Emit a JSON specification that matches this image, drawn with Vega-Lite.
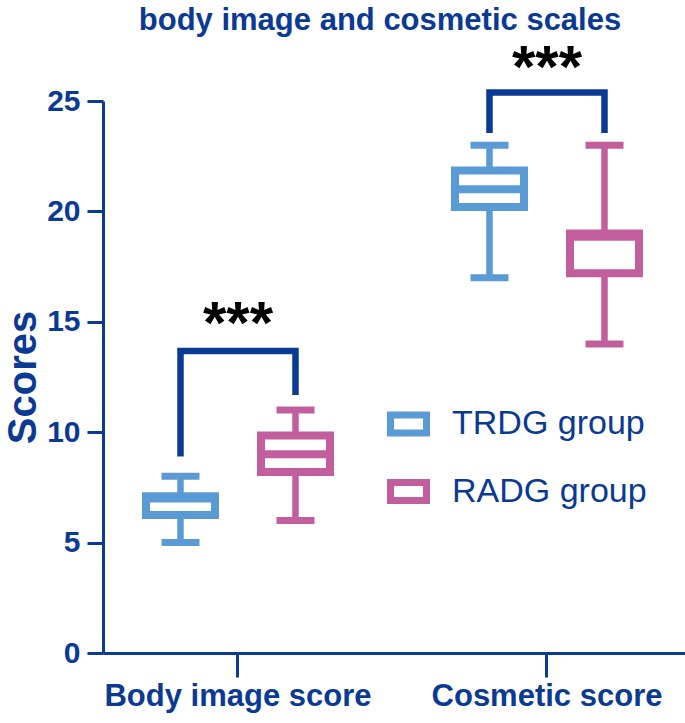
{
  "$schema": "https://vega.github.io/schema/vega-lite/v6.json",
  "width": 582,
  "height": 552,
  "autosize": {"type": "none"},
  "padding": {"left": 103, "top": 101, "right": 0, "bottom": 70},
  "background": "white",
  "title": {
    "text": "body image and cosmetic scales",
    "font": "Liberation Sans",
    "fontSize": 31,
    "fontWeight": "bold",
    "color": "#0a3a94",
    "anchor": "middle",
    "frame": "group",
    "dx": -14,
    "offset": 2
  },
  "config": {
    "view": {"stroke": null},
    "font": "Liberation Sans"
  },
  "datasets": {
    "boxes": [
      {"cat": "Body image score", "grp": "TRDG group", "min": 5, "q1": 6.25, "median": 7.0, "q3": 7.1, "max": 8},
      {"cat": "Body image score", "grp": "RADG group", "min": 6, "q1": 8.2, "median": 9.0, "q3": 9.85, "max": 11},
      {"cat": "Cosmetic score", "grp": "TRDG group", "min": 17, "q1": 20.2, "median": 21.0, "q3": 21.85, "max": 23},
      {"cat": "Cosmetic score", "grp": "RADG group", "min": 14, "q1": 17.2, "median": 18.85, "q3": 19.0, "max": 23}
    ],
    "brackets": [
      {"cat": "Body image score", "grp": "TRDG group", "v": 8.9, "b": "body", "o": 1},
      {"cat": "Body image score", "grp": "TRDG group", "v": 13.68, "b": "body", "o": 2},
      {"cat": "Body image score", "grp": "RADG group", "v": 13.68, "b": "body", "o": 3},
      {"cat": "Body image score", "grp": "RADG group", "v": 11.68, "b": "body", "o": 4},
      {"cat": "Cosmetic score", "grp": "TRDG group", "v": 23.55, "b": "cos", "o": 1},
      {"cat": "Cosmetic score", "grp": "TRDG group", "v": 25.38, "b": "cos", "o": 2},
      {"cat": "Cosmetic score", "grp": "RADG group", "v": 25.38, "b": "cos", "o": 3},
      {"cat": "Cosmetic score", "grp": "RADG group", "v": 23.55, "b": "cos", "o": 4}
    ],
    "stars": [
      {"cat": "Body image score", "v": 14.05, "label": "***"},
      {"cat": "Cosmetic score", "v": 25.65, "label": "***"}
    ]
  },
  "encoding": {
    "x": {
      "field": "cat",
      "type": "nominal",
      "sort": ["Body image score", "Cosmetic score"],
      "scale": {"domain": ["Body image score", "Cosmetic score"], "paddingInner": 0.2557, "paddingOuter": 0.0696, "align": 0.465},
      "axis": {
        "title": null,
        "labelAngle": 0,
        "labelLimit": 500,
        "domainColor": "#0a3a94",
        "domainWidth": 3,
        "tickColor": "#0a3a94",
        "tickWidth": 3,
        "tickSize": 24,
        "labelFont": "Liberation Sans",
        "labelFontSize": 31,
        "labelFontWeight": "bold",
        "labelColor": "#0a3a94",
        "labelPadding": 4
      }
    }
  },
  "layer": [
    {
      "data": {"name": "boxes"},
      "mark": {"type": "rule", "strokeWidth": 6.5},
      "encoding": {
        "xOffset": {"field": "grp", "type": "nominal", "scale": {"domain": ["TRDG group", "RADG group"], "paddingInner": 0, "paddingOuter": 0}},
        "y": {
          "field": "min",
          "type": "quantitative",
          "scale": {"domain": [0, 25], "nice": false},
          "axis": {
            "values": [0, 5, 10, 15, 20, 25],
            "grid": false,
            "title": "Scores",
            "titleFont": "Liberation Sans",
            "titleFontSize": 40,
            "titleFontWeight": "bold",
            "titleColor": "#0a3a94",
            "titlePadding": 3,
            "domainColor": "#0a3a94",
            "domainWidth": 3,
            "tickColor": "#0a3a94",
            "tickWidth": 3,
            "tickSize": 16,
            "labelFont": "Liberation Sans",
            "labelFontSize": 30,
            "labelFontWeight": "bold",
            "labelColor": "#0a3a94",
            "labelPadding": 7
          }
        },
        "y2": {"field": "max"},
        "stroke": {
          "field": "grp",
          "type": "nominal",
          "scale": {"domain": ["TRDG group", "RADG group"], "range": ["#5b9bd5", "#c25e9e"]},
          "legend": {
            "title": null,
            "orient": "none",
            "legendX": 284,
            "legendY": 301.5,
            "padding": 0,
            "symbolType": "M-1,-0.5H1V0.5H-1Z",
            "symbolSize": 1296,
            "symbolStrokeWidth": 7,
            "symbolFillColor": "white",
            "symbolOpacity": 1,
            "labelFont": "Liberation Sans",
            "labelFontSize": 34,
            "labelColor": "#0a3a94",
            "labelOffset": 22,
            "rowPadding": 20.5,
            "labelLimit": 400,
            "encode": {"symbols": {"update": {"fill": {"value": "white"}, "fillOpacity": {"value": 1}}}}
          }
        }
      }
    },
    {
      "data": {"name": "boxes"},
      "mark": {"type": "bar", "fill": "white", "strokeWidth": 8, "size": 69},
      "encoding": {
        "xOffset": {"field": "grp", "type": "nominal"},
        "y": {"field": "q1", "type": "quantitative"},
        "y2": {"field": "q3"},
        "stroke": {"field": "grp", "type": "nominal"}
      }
    },
    {
      "data": {"name": "boxes"},
      "transform": [{"filter": "datum.grp == 'TRDG group'"}],
      "mark": {"type": "tick", "thickness": 8, "size": 69, "opacity": 1, "color": "#5b9bd5"},
      "encoding": {
        "xOffset": {"field": "grp", "type": "nominal"},
        "y": {"field": "median", "type": "quantitative"}
      }
    },
    {
      "data": {"name": "boxes"},
      "transform": [{"filter": "datum.grp == 'RADG group'"}],
      "mark": {"type": "tick", "thickness": 8, "size": 69, "opacity": 1, "color": "#c25e9e"},
      "encoding": {
        "xOffset": {"field": "grp", "type": "nominal"},
        "y": {"field": "median", "type": "quantitative"}
      }
    },
    {
      "data": {"name": "boxes"},
      "transform": [{"filter": "datum.grp == 'TRDG group'"}, {"fold": ["min", "max"], "as": ["k", "val"]}],
      "mark": {"type": "tick", "thickness": 7, "size": 38, "opacity": 1, "color": "#5b9bd5"},
      "encoding": {
        "xOffset": {"field": "grp", "type": "nominal"},
        "y": {"field": "val", "type": "quantitative"}
      }
    },
    {
      "data": {"name": "boxes"},
      "transform": [{"filter": "datum.grp == 'RADG group'"}, {"fold": ["min", "max"], "as": ["k", "val"]}],
      "mark": {"type": "tick", "thickness": 7, "size": 38, "opacity": 1, "color": "#c25e9e"},
      "encoding": {
        "xOffset": {"field": "grp", "type": "nominal"},
        "y": {"field": "val", "type": "quantitative"}
      }
    },
    {
      "data": {"name": "brackets"},
      "mark": {"type": "line", "strokeWidth": 6.5, "color": "#0a3a94", "strokeJoin": "miter", "strokeCap": "butt"},
      "encoding": {
        "xOffset": {"field": "grp", "type": "nominal"},
        "y": {"field": "v", "type": "quantitative"},
        "detail": {"field": "b", "type": "nominal"},
        "order": {"field": "o", "type": "quantitative"}
      }
    },
    {
      "data": {"name": "stars"},
      "mark": {"type": "text", "font": "Liberation Sans", "fontSize": 60, "fontWeight": "bold", "color": "black", "baseline": "alphabetic", "align": "center"},
      "encoding": {
        "y": {"field": "v", "type": "quantitative"},
        "text": {"field": "label"}
      }
    }
  ]
}
